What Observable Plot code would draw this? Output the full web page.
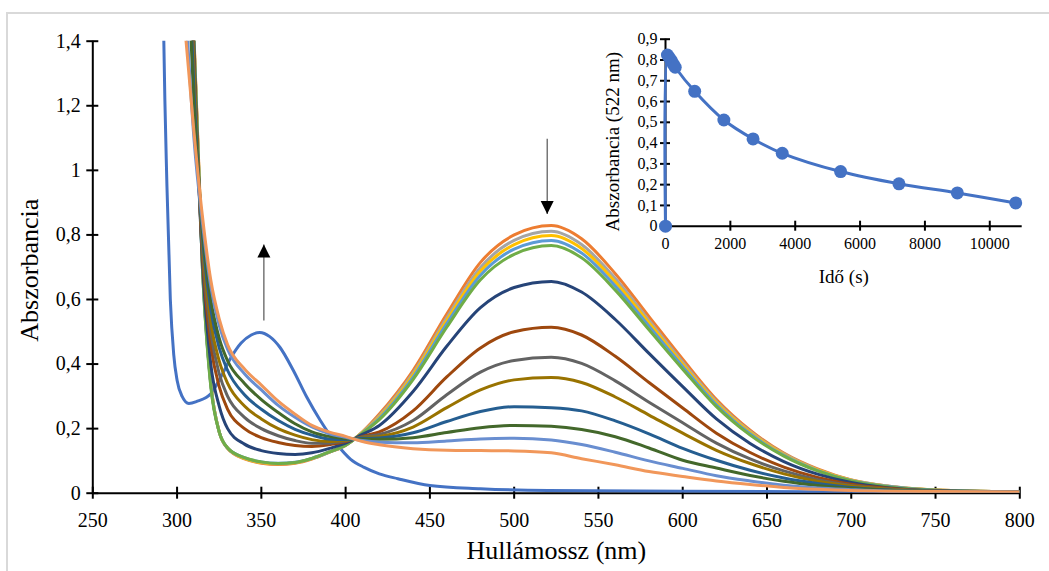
<!DOCTYPE html>
<html>
<head>
<meta charset="utf-8">
<script src="https://cdn.jsdelivr.net/npm/d3@7"></script>
<script src="https://cdn.jsdelivr.net/npm/@observablehq/plot@0.6"></script>
<style>
  body { margin: 0; background: #fff; }
  #chart { position: relative; width: 1049px; height: 571px; overflow: hidden; background: #fff;
           font-family: "Liberation Serif", "Times New Roman", serif; }
  #chart svg { position: absolute; left: 0; top: 0; }
  #frame { position: absolute; left: 6px; top: 12px; width: 1100px; height: 700px;
           border-left: 2px solid #d9d9d9; border-top: 2px solid #d9d9d9; }
</style>
</head>
<body>
<div id="chart"><div id="frame"></div></div>
<script>
// ---- Spectra: wavelength grid (nm) shared by the timed spectra ----
const wl = [305, 310, 315, 320, 325, 330, 340, 350, 360, 370, 380, 390, 400, 410, 420, 440,
            460, 480, 500, 522, 540, 560, 580, 600, 620, 640, 660, 680, 700, 720, 750, 800];

// Ligand alone (before mixing), own wavelength grid
const wlLigand = [290, 292, 294, 296, 298, 300, 303, 307, 312, 320, 326, 332, 338, 344, 349, 355,
                  361, 369, 377, 385, 395, 403, 411, 420, 431, 450, 480, 520, 600, 700, 800];
const aLigand  = [2.5, 1.45, 0.95, 0.6, 0.43, 0.35, 0.3, 0.278, 0.285, 0.308, 0.36, 0.42, 0.465, 0.49, 0.498, 0.485,
                  0.452, 0.38, 0.297, 0.225, 0.15, 0.105, 0.08, 0.06, 0.045, 0.024, 0.014, 0.008, 0.006, 0.004, 0.003];

// Absorbance spectra after mixing, by reaction time
const a60    = [2.4, 1.42, 0.72, 0.34, 0.19, 0.138, 0.106, 0.093, 0.089, 0.093, 0.106, 0.126, 0.148, 0.19, 0.245, 0.38,
                0.555, 0.715, 0.8, 0.829, 0.788, 0.68, 0.547, 0.415, 0.29, 0.195, 0.124, 0.075, 0.041, 0.023, 0.01, 0.004];
const a120   = [2.4, 1.41, 0.71, 0.34, 0.19, 0.14, 0.108, 0.095, 0.091, 0.094, 0.107, 0.127, 0.149, 0.189, 0.24, 0.372,
                0.543, 0.699, 0.783, 0.811, 0.77, 0.665, 0.535, 0.406, 0.284, 0.191, 0.122, 0.073, 0.041, 0.023, 0.01, 0.004];
const a180   = [2.4, 1.41, 0.71, 0.34, 0.19, 0.14, 0.108, 0.095, 0.091, 0.094, 0.107, 0.127, 0.149, 0.188, 0.236, 0.366,
                0.535, 0.688, 0.77, 0.798, 0.758, 0.654, 0.527, 0.399, 0.279, 0.188, 0.12, 0.072, 0.04, 0.022, 0.01, 0.004];
const a240   = [2.4, 1.4, 0.7, 0.335, 0.19, 0.14, 0.11, 0.097, 0.093, 0.096, 0.108, 0.127, 0.149, 0.187, 0.232, 0.359,
                0.525, 0.675, 0.756, 0.783, 0.744, 0.642, 0.517, 0.392, 0.274, 0.184, 0.117, 0.07, 0.039, 0.022, 0.009, 0.004];
const a300   = [2.4, 1.4, 0.7, 0.33, 0.19, 0.14, 0.11, 0.097, 0.092, 0.095, 0.108, 0.127, 0.149, 0.186, 0.228, 0.352,
                0.514, 0.661, 0.74, 0.767, 0.729, 0.629, 0.506, 0.384, 0.268, 0.18, 0.115, 0.069, 0.038, 0.021, 0.009, 0.004];
const a900   = [2.3, 1.38, 0.72, 0.4, 0.27, 0.2, 0.152, 0.132, 0.123, 0.12, 0.125, 0.138, 0.155, 0.182, 0.21, 0.315,
                0.455, 0.575, 0.637, 0.656, 0.623, 0.538, 0.433, 0.33, 0.23, 0.154, 0.098, 0.059, 0.033, 0.018, 0.008, 0.004];
const a1800  = [2.2, 1.35, 0.74, 0.46, 0.33, 0.26, 0.2, 0.172, 0.157, 0.148, 0.145, 0.15, 0.16, 0.176, 0.19, 0.255,
                0.36, 0.45, 0.5, 0.514, 0.49, 0.424, 0.343, 0.264, 0.186, 0.126, 0.081, 0.049, 0.028, 0.016, 0.007, 0.004];
const a2700  = [2.1, 1.32, 0.76, 0.5, 0.37, 0.3, 0.235, 0.2, 0.178, 0.163, 0.155, 0.155, 0.162, 0.174, 0.182, 0.225,
                0.305, 0.375, 0.411, 0.421, 0.402, 0.348, 0.282, 0.218, 0.155, 0.106, 0.069, 0.042, 0.024, 0.014, 0.007, 0.004];
const a3600  = [2.0, 1.3, 0.78, 0.53, 0.41, 0.34, 0.27, 0.23, 0.2, 0.18, 0.166, 0.16, 0.164, 0.172, 0.176, 0.205,
                0.265, 0.32, 0.351, 0.358, 0.343, 0.298, 0.242, 0.186, 0.133, 0.092, 0.06, 0.037, 0.022, 0.013, 0.006, 0.004];
const a5400  = [1.9, 1.25, 0.8, 0.57, 0.45, 0.38, 0.305, 0.26, 0.225, 0.198, 0.18, 0.168, 0.166, 0.17, 0.171, 0.187,
                0.222, 0.253, 0.268, 0.265, 0.255, 0.224, 0.184, 0.139, 0.102, 0.071, 0.047, 0.03, 0.018, 0.011, 0.006, 0.004];
const a7200  = [1.8, 1.2, 0.82, 0.6, 0.48, 0.41, 0.34, 0.29, 0.25, 0.215, 0.19, 0.176, 0.169, 0.167, 0.167, 0.172,
                0.188, 0.203, 0.21, 0.207, 0.197, 0.175, 0.14, 0.102, 0.078, 0.055, 0.037, 0.024, 0.015, 0.009, 0.005, 0.004];
const a9000  = [1.52, 1.1, 0.84, 0.64, 0.52, 0.445, 0.37, 0.32, 0.272, 0.235, 0.205, 0.185, 0.173, 0.163, 0.158, 0.156,
                0.162, 0.168, 0.17, 0.165, 0.151, 0.127, 0.1, 0.077, 0.054, 0.038, 0.025, 0.016, 0.011, 0.007, 0.005, 0.004];
const a10800 = [1.42, 1.12, 0.86, 0.66, 0.54, 0.46, 0.385, 0.335, 0.285, 0.245, 0.21, 0.19, 0.176, 0.16, 0.15, 0.138,
                0.133, 0.132, 0.131, 0.125, 0.107, 0.088, 0.067, 0.052, 0.038, 0.027, 0.018, 0.012, 0.008, 0.006, 0.005, 0.004];

const timedSpectra = [a60, a120, a180, a240, a300, a900, a1800, a2700, a3600, a5400, a7200, a9000, a10800];
const ligandColor = "#4472C4";
const spectrumColors = ["#ED7D31", "#A5A5A5", "#FFC000", "#5B9BD5", "#70AD47", "#264478", "#9E480E",
                        "#636363", "#997300", "#255E91", "#43682B", "#698ED0", "#F1975A"];

// Axis ticks and titles
const xTicks = [250, 300, 350, 400, 450, 500, 550, 600, 650, 700, 750, 800];
const yTicks = [0, 0.2, 0.4, 0.6, 0.8, 1, 1.2, 1.4];
const xTitle = "Hullámossz (nm)";
const yTitle = "Abszorbancia";

// Arrows showing the direction of change (nm, from, to)
const arrowNm   = [351.5, 519.6];
const arrowFrom = [0.535, 1.098];
const arrowTo   = [0.77, 0.865];

// ---- Kinetics at 522 nm ----
const timeS   = [0, 60, 120, 180, 240, 300, 900, 1800, 2700, 3600, 5400, 7200, 9000, 10800];
const abs522  = [0, 0.824, 0.81, 0.797, 0.78, 0.765, 0.649, 0.511, 0.42, 0.351, 0.263, 0.204, 0.16, 0.112];
const insetXTicks = [0, 2000, 4000, 6000, 8000, 10000];
const insetYTicks = [0, 0.1, 0.2, 0.3, 0.4, 0.5, 0.6, 0.7, 0.8, 0.9];
const insetXTitle = "Idő (s)";
const insetYTitle = "Abszorbancia (522 nm)";

const comma = d => String(d).replace(".", ",");
const blank = () => "";
const serif = "'Liberation Serif', 'Times New Roman', serif";

// Filled arrowheads with the tip at the anchor point
const headUp = { draw(ctx) { ctx.moveTo(0, 0); ctx.lineTo(-6.5, 13); ctx.lineTo(6.5, 13); ctx.closePath(); } };
const headDown = { draw(ctx) { ctx.moveTo(0, 0); ctx.lineTo(-6.5, -13); ctx.lineTo(6.5, -13); ctx.closePath(); } };

const ligandRows = wlLigand.map((nm, i) => ({nm, a: aLigand[i]}));
const spectrumMarks = timedSpectra.map((vals, k) =>
  Plot.line(vals.map((a, i) => ({nm: wl[i], a})),
    {x: "nm", y: "a", stroke: spectrumColors[k], strokeWidth: 3, curve: "monotone-x", clip: true}));

const arrows = arrowNm.map((x, i) => ({x, from: arrowFrom[i], to: arrowTo[i]}));

const main = Plot.plot({
  width: 1049, height: 571,
  marginLeft: 92.3, marginRight: 29.7, marginTop: 40.7, marginBottom: 78.3,
  x: {domain: [250, 800], label: null},
  y: {domain: [0, 1.4], label: null},
  style: {fontFamily: serif, fontSize: "20px", color: "#000", background: "transparent", overflow: "visible"},
  marks: [
    Plot.ruleY([0], {stroke: "#000", strokeWidth: 2}),
    Plot.ruleX([250], {stroke: "#000", strokeWidth: 2}),
    // crossing tick marks (centred on the axis line)
    Plot.axisX({ticks: xTicks, tickSize: 12, dy: -6, tickFormat: blank, label: null, stroke: "#000", strokeWidth: 2}),
    Plot.axisX({ticks: xTicks, tickSize: 0, tickPadding: 20, tickFormat: comma, label: null, fill: "#000"}),
    Plot.axisY({ticks: yTicks, tickSize: 12, dx: 6, tickFormat: blank, label: null, stroke: "#000", strokeWidth: 2}),
    Plot.axisY({ticks: yTicks, tickSize: 0, tickPadding: 12, tickFormat: comma, label: null, fill: "#000"}),
    Plot.line(ligandRows, {x: "nm", y: "a", stroke: ligandColor, strokeWidth: 3, curve: "monotone-x", clip: true}),
    ...spectrumMarks,
    Plot.link(arrows, {x1: "x", x2: "x", y1: "from", y2: "to", stroke: "#555", strokeWidth: 1.2}),
    Plot.dot(arrows.filter(d => d.to > d.from), {x: "x", y: "to", symbol: headUp, r: 5, fill: "#000", stroke: "none"}),
    Plot.dot(arrows.filter(d => d.to < d.from), {x: "x", y: "to", symbol: headDown, r: 5, fill: "#000", stroke: "none"}),
    Plot.text([xTitle], {frameAnchor: "bottom", textAnchor: "middle", dy: 57, lineAnchor: "middle", fontSize: 26, fill: "#000"}),
    Plot.text([yTitle], {frameAnchor: "left", textAnchor: "middle", dx: -63, dy: 3, rotate: -90, lineAnchor: "middle", fontSize: 26, fill: "#000"})
  ]
});

const kin = timeS.map((t, i) => ({t, a: abs522[i]}));
const inset = Plot.plot({
  width: 1049, height: 300,
  marginLeft: 665, marginRight: 27.3, marginTop: 38.7, marginBottom: 74.3,
  x: {domain: [0, 11000], label: null},
  y: {domain: [0, 0.9], label: null},
  style: {fontFamily: serif, fontSize: "16px", color: "#000", background: "transparent", overflow: "visible"},
  marks: [
    Plot.ruleY([0], {stroke: "#000", strokeWidth: 2}),
    Plot.ruleX([0], {stroke: "#000", strokeWidth: 2}),
    Plot.axisX({ticks: insetXTicks, tickSize: 10, dy: -5, tickFormat: blank, label: null, stroke: "#000", strokeWidth: 2}),
    Plot.axisX({ticks: insetXTicks, tickSize: 0, tickPadding: 11, tickFormat: comma, label: null, fill: "#000"}),
    Plot.axisY({ticks: insetYTicks, tickSize: 10, dx: 5, tickFormat: blank, label: null, stroke: "#000", strokeWidth: 2}),
    Plot.axisY({ticks: insetYTicks, tickSize: 0, tickPadding: 8, tickFormat: comma, label: null, fill: "#000"}),
    Plot.line(kin, {x: "t", y: "a", stroke: "#4472C4", strokeWidth: 3, curve: "catmull-rom"}),
    Plot.dot(kin, {x: "t", y: "a", r: 6.5, fill: "#4472C4", stroke: "none"}),
    Plot.text([insetXTitle], {frameAnchor: "bottom", textAnchor: "middle", dy: 51, lineAnchor: "middle", fontSize: 19, fill: "#000"}),
    Plot.text([insetYTitle], {frameAnchor: "left", textAnchor: "middle", dx: -53, dy: 9, rotate: -90, lineAnchor: "middle", fontSize: 19, fill: "#000"})
  ]
});

const host = document.getElementById("chart");
host.appendChild(main);
host.appendChild(inset);
</script>
</body>
</html>
